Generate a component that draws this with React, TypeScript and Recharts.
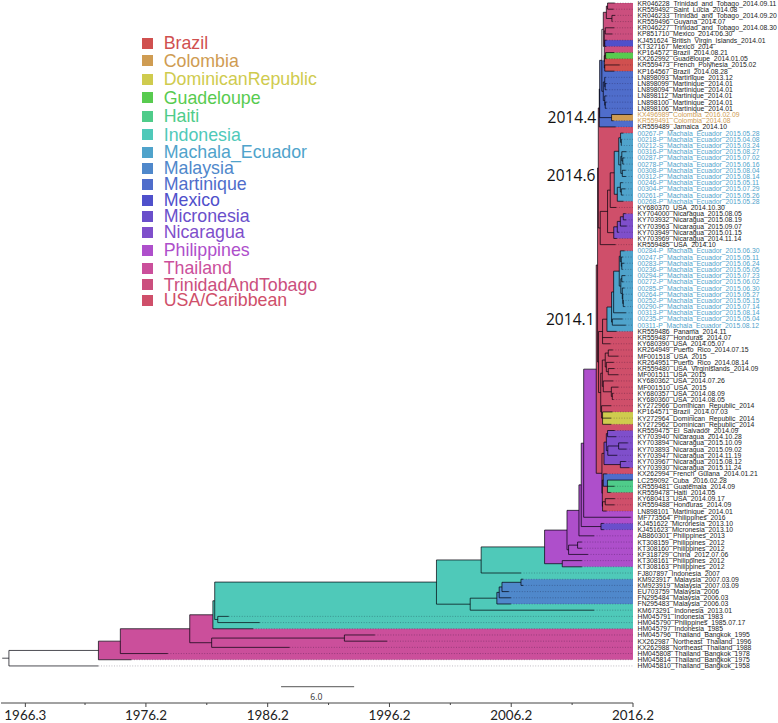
import { ReferenceArea, ReferenceDot, ReferenceLine, Scatter, ScatterChart, XAxis, YAxis } from "recharts";

const TIP_LABELS = [
  "KR046228_Trinidad_and_Tobago_2014.09.11", "KR559492_Saint_Lucia_2014.08", "KR046233_Trinidad_and_Tobago_2014.09.20",
  "KR559496_Guyana_2014.07", "KR046227_Trinidad_and_Tobago_2014.08.30", "KP851710_Mexico_2014.06.30",
  "KJ451624_British_Virgin_Islands_2014.01", "KT327167_Mexico_2014", "KP164572_Brazil_2014.08.21",
  "KX262992_Guadeloupe_2014.01.05", "KR559473_French_Polynesia_2015.02", "KP164567_Brazil_2014.08.28",
  "LN898093_Martinique_2013.12", "LN898099_Martinique_2014.01", "LN898094_Martinique_2014.01",
  "LN898112_Martinique_2014.01", "LN898100_Martinique_2014.01", "LN898106_Martinique_2014.01",
  "KX496989_Colombia_2016.02.09", "KR559491_Colombia_2014.08", "KR559489_Jamaica_2014.10",
  "00267-P_Machala_Ecuador_2015.05.28", "00218-P_Machala_Ecuador_2015.04.08", "00212-S_Machala_Ecuador_2015.03.24",
  "00316-P_Machala_Ecuador_2015.08.27", "00287-P_Machala_Ecuador_2015.07.02", "00278-P_Machala_Ecuador_2015.06.16",
  "00308-P_Machala_Ecuador_2015.08.04", "00312-P_Machala_Ecuador_2015.08.14", "00246-P_Machala_Ecuador_2015.05.11",
  "00304-P_Machala_Ecuador_2015.07.29", "00261-P_Machala_Ecuador_2015.05.26", "00268-P_Machala_Ecuador_2015.05.28",
  "KY680370_USA_2014.10.30", "KY704000_Nicaragua_2015.08.05", "KY703932_Nicaragua_2015.08.19",
  "KY703963_Nicaragua_2015.09.07", "KY703949_Nicaragua_2015.01.15", "KY703969_Nicaragua_2014.11.14",
  "KR559485_USA_2014.10", "00284-P_Machala_Ecuador_2015.06.30", "00247-P_Machala_Ecuador_2015.05.11",
  "00283-P_Machala_Ecuador_2015.06.24", "00236-P_Machala_Ecuador_2015.05.05", "00294-P_Machala_Ecuador_2015.07.23",
  "00272-P_Machala_Ecuador_2015.06.02", "00285-P_Machala_Ecuador_2015.06.30", "00264-P_Machala_Ecuador_2015.05.27",
  "00252-P_Machala_Ecuador_2015.05.15", "00290-P_Machala_Ecuador_2015.07.14", "00313-P_Machala_Ecuador_2015.08.14",
  "00235-P_Machala_Ecuador_2015.05.04", "00311-P_Machala_Ecuador_2015.08.12", "KR559486_Panama_2014.11",
  "KR559487_Honduras_2014.07", "KY680390_USA_2014.05.07", "KR264949_Puerto_Rico_2014.07.15",
  "MF001518_USA_2015", "KR264951_Puerto_Rico_2014.08.14", "KR559480_USA_VirginIslands_2014.09",
  "MF001511_USA_2015", "KY680362_USA_2014.07.26", "MF001510_USA_2015",
  "KY680357_USA_2014.08.09", "KY680360_USA_2014.08.05", "KY272966_Dominican_Republic_2014",
  "KP164571_Brazil_2014.07.03", "KY272964_Dominican_Republic_2014", "KY272962_Dominican_Republic_2014",
  "KR559475_El_Salvador_2014.09", "KY703940_Nicaragua_2014.10.28", "KY703894_Nicaragua_2015.10.09",
  "KY703893_Nicaragua_2015.09.02", "KY703947_Nicaragua_2014.11.19", "KY703967_Nicaragua_2015.08.12",
  "KY703930_Nicaragua_2015.11.24", "KX262994_French_Guiana_2014.01.21", "LC259092_Cuba_2016.02.28",
  "KR559481_Guatemala_2014.09", "KR559478_Haiti_2014.05", "KY680413_USA_2014.09.17",
  "KR559488_Honduras_2014.09", "LN898101_Martinique_2014.01", "MF773564_Philippines_2016",
  "KJ451622_Micronesia_2013.10", "KJ451623_Micronesia_2013.10", "AB860301_Philippines_2013",
  "KT308159_Philippines_2012", "KT308160_Philippines_2012", "KF318729_China_2012.07.06",
  "KT308161_Philippines_2012", "KT308163_Philippines_2012", "FJ807897_Indonesia_2007",
  "KM923917_Malaysia_2007.03.09", "KM923919_Malaysia_2007.03.09", "EU703759_Malaysia_2006",
  "FN295484_Malaysia_2006.03", "FN295483_Malaysia_2006.03", "KM673291_Indonesia_2013.01",
  "HM045791_Indonesia_1983", "HM045790_Philippines_1985.07.17", "HM045797_Indonesia_1985",
  "HM045796_Thailand_Bangkok_1995", "KX262987_Northeast_Thailand_1996", "KX262988_Northeast_Thailand_1988",
  "HM045808_Thailand_Bangkok_1978", "HM045814_Thailand_Bangkok_1975", "HM045810_Thailand_Bangkok_1958",
];

// where each tip's solid branch stops
const TIP_YEARS = [
  2014.7, 2014.6, 2014.72, 2014.5, 2014.66, 2014.5, 2014.03, 2014.0, 2014.64, 2014.01, 2015.1, 2014.66,
  2013.95, 2014.03, 2014.03, 2014.03, 2014.03, 2014.03, 2016.1, 2014.6, 2014.77,
  2015.4, 2015.27, 2015.23, 2015.65, 2015.5, 2015.45, 2015.59, 2015.62, 2015.36, 2015.57, 2015.4, 2015.4,
  2014.83, 2015.6, 2015.63, 2015.68, 2015.04, 2014.87, 2014.77,
  2015.5, 2015.36, 2015.48, 2015.34, 2015.56, 2015.42, 2015.5, 2015.4, 2015.37, 2015.53, 2015.62, 2015.34, 2015.61,
  2014.85, 2014.52, 2014.35, 2014.54, 2015.0, 2014.62, 2014.68, 2015.0, 2014.57, 2015.0, 2014.61, 2014.6,
  2014.4, 2014.5, 2014.4, 2014.4,
  2014.7, 2014.82, 2015.77, 2015.67, 2014.89, 2015.61, 2015.9, 2014.05, 2016.16, 2014.68, 2014.37, 2014.71, 2014.68, 2014.03,
  2016.0, 2013.8, 2013.8, 2013.0, 2012.0, 2012.0, 2012.5, 2012.0, 2012.0,
  2007.0, 2007.18, 2007.18, 2006.0, 2006.17, 2006.17, 2013.0, 1983.0, 1985.54, 1985.0,
  1995.0, 1996.0, 1988.0, 1978.0, 1975.0, 1972.3,
];

const COUNTRIES = [
  "Brazil", "Colombia", "DominicanRepublic", "Guadeloupe", "Haiti", "Indonesia", "Machala_Ecuador", "Malaysia",
  "Martinique", "Mexico", "Micronesia", "Nicaragua", "Philippines", "Thailand", "TrinidadAndTobago", "USA/Caribbean",
];

const COUNTRY_COLORS: Record<string, string> = {
  Brazil: "#d0504f",
  Colombia: "#cf9c52",
  DominicanRepublic: "#cfcb4e",
  Guadeloupe: "#58cb4f",
  Haiti: "#4fcc8a",
  Indonesia: "#4fc9b9",
  Machala_Ecuador: "#4fa3cb",
  Malaysia: "#4f88cb",
  Martinique: "#4f6dcb",
  Mexico: "#4f50cb",
  Micronesia: "#6a4fcb",
  Nicaragua: "#7f4fcb",
  Philippines: "#ae4fcb",
  Thailand: "#cb4f9b",
  TrinidadAndTobago: "#cb4f7e",
  "USA/Caribbean": "#cf4f6a",
};

const LEGEND_CENTERS = [43.3, 60.7, 79.3, 97.7, 116, 134.7, 152.3, 168.3, 184, 200.3, 216, 232, 250.3, 268, 284.7, 300.3];

const YEAR_TICKS = [
  1966.3, 1971.2, 1976.2, 1981.2, 1986.2, 1991.2, 1996.2, 2001.2, 2006.2, 2011.2, 2016.2,
];

const NODE_NOTES = [
  { text: "2014.4", year: 2013.18, row: 19.5 },
  { text: "2014.6", year: 2013.12, row: 28.76 },
  { text: "2014.1", year: 2013.05, row: 52 },
];

const FIRST_ROW = 0.516;
const LAST_ROW = 113.98;
const START_YEAR = 1964.3;
const END_YEAR = 2016.2;

type TreeNode = { year: number; clade?: string; kids: Kid[] };
type Kid = TreeNode | number;

const N = (year: number, ...kids: Kid[]): TreeNode => ({ year, kids });
const C = (year: number, clade: string, ...kids: Kid[]): TreeNode => ({ year, clade, kids });

// Trinidad, Mexico, Guadeloupe, Brazil
const caribbeanTop = C(2013.76, "TrinidadAndTobago",
  N(2014.01, N(2014.11, 1, 2), N(2014.47, 3, 4)),
  N(2013.84,
    N(2013.92, 5, 6),
    C(2013.88, "Mexico", 7, 8),
    C(2013.84, "Brazil", C(2013.95, "Guadeloupe", 9, 10), N(2013.88, 11, 12)),
  ),
);

const martinique = N(2013.76,
  N(2013.88, 13, N(2013.91, 14, 15)),
  N(2013.88, 16, N(2013.92, 17, 18)),
);

const americas = C(2013.43, "Martinique",
  N(2013.46,
    C(2013.64, "none", caribbeanTop, martinique),
    C(2014.44, "Colombia", 19, 20),
  ),
  21,
);

const machalaOne = C(2014.66, "Machala_Ecuador",
  N(2015.03,
    N(2015.18, 22, N(2015.24, 23, 24)),
    N(2015.2, N(2015.28, 25, N(2015.36, 26, 27)), N(2015.32, 28, 29)),
  ),
  N(2014.91, N(2015.16, 30, N(2015.24, 31, 32)), 33),
);

const nicaraguaOne = C(2014.62, "Nicaragua",
  N(2014.91, N(2015.16, N(2015.4, 35, 36), 37), 38),
  39,
);

const upperUsa = N(2013.35,
  americas,
  N(2013.51, N(2014.11, N(2014.33, machalaOne, 34), nicaraguaOne), 40),
);

const machalaTwo = C(2014.06, "Machala_Ecuador",
  N(2014.44,
    N(2014.61,
      N(2015.07,
        N(2015.16, 41, N(2015.24, 42, N(2015.28, 43, 44))),
        N(2015.2, N(2015.28, 45, 46), N(2015.32, 47, N(2015.36, 48, N(2015.4, 49, 50)))),
      ),
      51,
    ),
    N(2014.5, 52, 53),
  ),
  54,
);

const lowerUsa = N(2013.37,
  N(2013.7, machalaTwo, 55, 56),
  N(2013.55,
    N(2013.68,
      N(2013.92, N(2014.17, 57, 58), N(2014.01, 59, N(2014.17, 60, 61))),
      N(2013.76, 62, N(2014.42, 63, N(2014.5, 64, 65))),
    ),
    N(2013.62, 66, C(2013.7, "DominicanRepublic", 67, 68, 69)),
  ),
);

const nicaraguaTwo = C(2013.82, "Nicaragua",
  N(2014.01, N(2014.11, 70, 71), N(2014.13, N(2015.02, 72, 73), 74)),
  N(2015.16, 75, 76),
);

const caribbeanLow = N(2013.65,
  nicaraguaTwo,
  N(2013.68,
    C(2013.76, "Martinique", 77, C(2014.1, "Haiti", 78, 79, 80)),
    N(2013.7, N(2013.92, 81, 82), 83),
  ),
);

const philippines = C(2008.94, "Philippines",
  N(2010.78,
    N(2011.76,
      N(2011.95,
        N(2012.15, C(2013.18, "USA/Caribbean", N(2013.29, upperUsa, lowerUsa), caribbeanLow), 84),
        C(2013.57, "Micronesia", 85, 86),
      ),
      87,
    ),
    N(2010.91, N(2011.65, 88, 89), 90),
  ),
  N(2010.39, 91, 92),
);

const malaysia = C(2005.02, "Malaysia",
  N(2005.21, N(2005.44, N(2007.0, 94, 95), 96), 97),
  98,
);

const TREE = N(1964.95,
  C(1972.3, "Thailand",
    N(1974.1,
      N(1979.8,
        C(1981.7, "Indonesia",
          N(1981.85,
            N(2000.06, N(2003.73, philippines, 93), N(2002.83, malaysia, 99)),
            N(1982.1, 100, 101),
          ),
          102,
        ),
        N(1981.6, N(1992.5, 103, 104), 105),
      ),
      106,
    ),
    107,
  ),
  108,
);

const rowOf = (kid: Kid): number =>
  typeof kid === "number" ? kid : (rowOf(kid.kids[0]) + rowOf(kid.kids[kid.kids.length - 1])) / 2;

const yearOf = (kid: Kid) => (typeof kid === "number" ? TIP_YEARS[kid - 1] : kid.year);

const boxes: { year: number; top: number; bottom: number; color: string }[] = [];
const stems: { year: number; top: number; bottom: number }[] = [];
const branches: { from: number; to: number; row: number }[] = [];
const leaders: { from: number; row: number }[] = [];

function walk(node: TreeNode, clade?: string) {
  const current = node.clade === "none" ? clade : node.clade ?? clade;
  const top = rowOf(node.kids[0]);
  const bottom = rowOf(node.kids[node.kids.length - 1]);
  if (current && node.clade !== "none") boxes.push({ year: node.year, top, bottom, color: COUNTRY_COLORS[current] });
  stems.push({ year: node.year, top, bottom });
  node.kids.forEach((kid) => {
    branches.push({ from: node.year, to: yearOf(kid), row: rowOf(kid) });
    if (typeof kid === "number") leaders.push({ from: yearOf(kid), row: kid });
    else walk(kid, current);
  });
}
walk(TREE);
branches.push({ from: 1964.4, to: TREE.year, row: rowOf(TREE) });

const tipPoints = TIP_LABELS.map((_, i) => ({ year: TIP_YEARS[i], row: i + 1 }));
const tipRows = tipPoints.map((p) => p.row);

function tipColor(label: string) {
  if (label.includes("Machala")) return COUNTRY_COLORS.Machala_Ecuador;
  if (label.includes("Colombia")) return COUNTRY_COLORS.Colombia;
  return "#1c1c1c";
}

function TipTick({ x, y, payload }: any) {
  const label = TIP_LABELS[payload.value - 1];
  return (
    <text x={x + 4.5} y={y} dominantBaseline="central" fontSize={6.8} fontFamily="Liberation Sans" fill={tipColor(label)}>
      {label}
    </text>
  );
}

function YearTick({ x, y, payload, index }: any) {
  const major = index % 2 === 0;
  return (
    <g>
      <line x1={x} x2={x} y1={y} y2={y + (major ? 4 : 2)} stroke="#444" />
      {major && (
        <text x={x} y={y + 12} textAnchor="middle" dominantBaseline="central" fontSize={13.4} fontFamily="Lato" fill="#222">
          {payload.value.toFixed(1)}
        </text>
      )}
    </g>
  );
}

function CountryLegend() {
  return (
    <>
      {COUNTRIES.map((name, i) => (
        <div
          key={name}
          style={{
            position: "absolute",
            left: 141.7,
            top: LEGEND_CENTERS[i] - 8,
            height: 16,
            lineHeight: "16px",
            display: "flex",
            alignItems: "center",
            fontFamily: "Liberation Sans",
            fontSize: 17.8,
            color: COUNTRY_COLORS[name],
            whiteSpace: "nowrap",
          }}
        >
          <span style={{ width: 11, height: 11, marginRight: 11, background: COUNTRY_COLORS[name] }} />
          {name}
        </div>
      ))}
    </>
  );
}

const branchStroke = "rgba(0,0,10,0.7)";

export default function App() {
  return (
    <div style={{ position: "absolute", left: 0, top: 0, width: 778, height: 723 }}>
      <ScatterChart width={778} height={723} margin={{ top: 0, right: 0, bottom: 0, left: 1 }}>
        <XAxis
          type="number"
          dataKey="year"
          domain={[START_YEAR, END_YEAR]}
          ticks={YEAR_TICKS}
          interval={0}
          height={20}
          tickSize={0}
          tickMargin={0}
          tickLine={false}
          stroke="#444"
          tick={<YearTick />}
          allowDataOverflow
        />
        <YAxis
          type="number"
          dataKey="row"
          orientation="right"
          reversed
          domain={[FIRST_ROW, LAST_ROW]}
          ticks={tipRows}
          interval={0}
          width={145}
          tickSize={0}
          tickMargin={0}
          tickLine={false}
          axisLine={false}
          tick={<TipTick />}
          allowDataOverflow
        />
        {boxes.map((b, i) => (
          <ReferenceArea key={i} x1={b.year} x2={END_YEAR} y1={b.top} y2={b.bottom} fill={b.color} fillOpacity={1} stroke="none" />
        ))}
        {leaders.map((l) => (
          <ReferenceLine
            key={l.row}
            segment={[{ x: l.from, y: l.row }, { x: END_YEAR, y: l.row }]}
            stroke="rgba(20,10,40,0.4)"
            strokeWidth={0.7}
            strokeDasharray="1 1.6"
          />
        ))}
        {stems.map((s, i) => (
          <ReferenceLine key={i} segment={[{ x: s.year, y: s.top }, { x: s.year, y: s.bottom }]} stroke={branchStroke} strokeWidth={1} />
        ))}
        {branches.map((b, i) => (
          <ReferenceLine key={i} segment={[{ x: b.from, y: b.row }, { x: b.to, y: b.row }]} stroke={branchStroke} strokeWidth={1} />
        ))}
        <ReferenceLine segment={[{ x: 1987.3, y: 111.35 }, { x: 1993.3, y: 111.35 }]} stroke="#555" strokeWidth={1} />
        <ReferenceDot
          x={1990.2}
          y={113}
          r={0}
          stroke="none"
          label={{ value: "6.0", position: "center", fontSize: 8.6, fontFamily: "Open Sans", fill: "#333" }}
        />
        {NODE_NOTES.map((n) => (
          <ReferenceDot
            key={n.text}
            x={n.year}
            y={n.row}
            r={0}
            stroke="none"
            label={{ value: n.text, position: "left", offset: 0, fontSize: 15.6, fontFamily: "Open Sans", fill: "#111" }}
          />
        ))}
        <Scatter data={tipPoints} dataKey="row" shape={() => null} isAnimationActive={false} />
      </ScatterChart>
      <CountryLegend />
    </div>
  );
}
